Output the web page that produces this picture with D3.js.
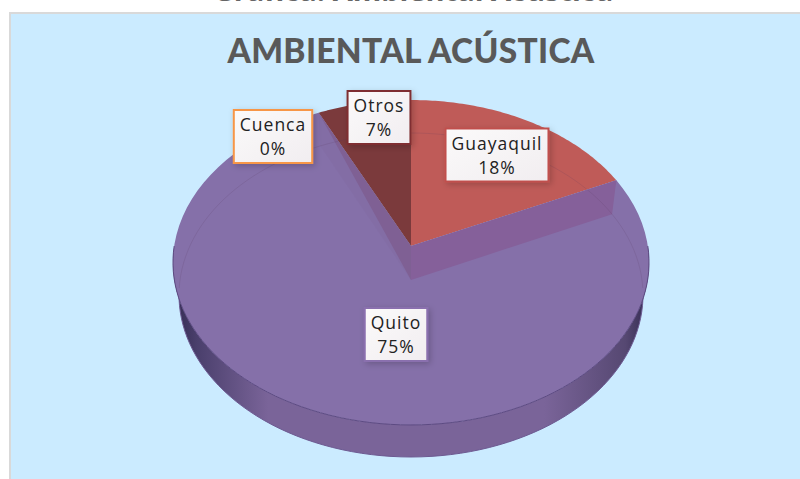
<!DOCTYPE html>
<html>
  <head>
    <title>Ambiental Acustica</title>
    <meta charset="utf-8" />
    <style>
      body {
        margin: 0;
        background: #fff;
      }
      text {
        font-family: "Open Sans", sans-serif;
      }
    </style>
    <script src="https://d3js.org/d3.v7.min.js"></script>
  </head>
  <body>
    <div id="chart"></div>
    <script type="text/javascript">
      var categories = ["Guayaquil", "Quito", "Cuenca", "Otros"];
      var values = [18, 75, 0, 7];
      var chartTitle = "AMBIENTAL ACÚSTICA";

      // label box centres, separate from the data
      var labelCenters = {
        Guayaquil: [497, 155],
        Quito: [396, 334.5],
        Cuenca: [273, 136.5],
        Otros: [379, 117.5],
      };
      var sliceColor = {
        Guayaquil: "#bf5b58",
        Quito: "#8570a9",
        Cuenca: "#9bbb59",
        Otros: "#7b3a3c",
      };
      var boxStroke = {
        Guayaquil: "#c0504d",
        Quito: "#8a6fae",
        Cuenca: "#f79646",
        Otros: "#7f2f30",
      };

      var w = 800;
      var h = 479;

      var svg = d3
        .select("#chart")
        .append("svg")
        .attr("width", w)
        .attr("height", h)
        .style("display", "block");

      var defs = svg.append("defs");

      var wallGrad = defs
        .append("linearGradient")
        .attr("id", "wall")
        .attr("gradientUnits", "userSpaceOnUse")
        .attr("x1", 173)
        .attr("x2", 649)
        .attr("y1", 0)
        .attr("y2", 0);
      [
        [0, "#322a50"],
        [0.05, "#4a3f6c"],
        [0.2, "#7a6499"],
        [0.78, "#7a6499"],
        [0.95, "#564872"],
        [1, "#322a50"],
      ].forEach(function (s) {
        wallGrad.append("stop").attr("offset", s[0]).attr("stop-color", s[1]);
      });

      var boxGrad = defs
        .append("linearGradient")
        .attr("id", "boxFill")
        .attr("x1", 0)
        .attr("x2", 1)
        .attr("y1", 0)
        .attr("y2", 1);
      boxGrad.append("stop").attr("offset", 0).attr("stop-color", "#fbfafa");
      boxGrad.append("stop").attr("offset", 1).attr("stop-color", "#f1edf0");

      defs
        .append("filter")
        .attr("id", "shadow")
        .attr("x", "-20%")
        .attr("y", "-20%")
        .attr("width", "150%")
        .attr("height", "150%")
        .append("feDropShadow")
        .attr("dx", 2)
        .attr("dy", 2)
        .attr("stdDeviation", 3)
        .attr("flood-color", "#000")
        .attr("flood-opacity", 0.2);

      // caption of the page above, cut off by the crop in the reference
      svg
        .append("text")
        .attr("x", 413)
        .attr("y", 1)
        .attr("text-anchor", "middle")
        .attr("font-size", 29)
        .attr("font-weight", 700)
        .attr("fill", "#666")
        .text("Gráfica: Ambiental Acústica");

      // chart panel
      svg
        .append("rect")
        .attr("x", 10)
        .attr("y", 13)
        .attr("width", w)
        .attr("height", h)
        .attr("fill", "#cbebff")
        .attr("stroke", "#d9d9d9")
        .attr("stroke-width", 2);

      svg
        .append("text")
        .attr("x", 411)
        .attr("y", 63)
        .attr("text-anchor", "middle")
        .attr("font-size", 33.5)
        .attr("font-weight", 900)
        .attr("letter-spacing", 0.3)
        .attr("fill", "#595959")
        .style("font-family", "Lato")
        .text(chartTitle);

      // perspective disc: u to the right, v to the back
      function disc(cx, cy, a, b, k) {
        return function (theta, r) {
          if (r === undefined) r = 1;
          var u = r * Math.sin(theta);
          var v = r * Math.cos(theta);
          var d = 1 + k * v;
          return [cx + (a * u) / d, cy - (b * v) / d];
        };
      }
      var upper = disc(411, 246, 236.8, 160.8, 0.1015);
      var lower = disc(411, 280, 231, 160.6, 0.0926);

      var line = d3.line();
      var pie = d3
        .pie()
        .sort(null)
        .value(function (d) {
          return d.value;
        });
      var slices = pie(
        categories.map(function (c, i) {
          return { name: c, value: values[i] };
        })
      );

      function arcPoints(p, a0, a1) {
        return d3.range(0, 81).map(function (i) {
          return p(a0 + ((a1 - a0) * i) / 80);
        });
      }
      function slicePath(p, s) {
        var pts = [p(0, 0)].concat(arcPoints(p, s.startAngle, s.endAngle));
        return line(pts) + "Z";
      }
      function cutFace(angle) {
        return (
          line([upper(0, 0), upper(angle), lower(angle), lower(0, 0)]) + "Z"
        );
      }

      // side wall at the front
      var wallPts = arcPoints(upper, Math.PI / 2, (3 * Math.PI) / 2).concat(
        arcPoints(lower, (3 * Math.PI) / 2, Math.PI / 2)
      );
      svg
        .append("path")
        .attr("d", line(wallPts) + "Z")
        .attr("fill", "url(#wall)");
      svg
        .append("path")
        .attr("d", line(arcPoints(lower, Math.PI / 2, (3 * Math.PI) / 2)))
        .attr("fill", "none")
        .attr("stroke", "#6d5a92")
        .attr("stroke-width", 1);

      // top surface
      svg
        .append("g")
        .selectAll("path")
        .data(
          slices.filter(function (d) {
            return d.value > 0;
          })
        )
        .enter()
        .append("path")
        .attr("d", function (d) {
          return slicePath(upper, d);
        })
        .attr("fill", function (d) {
          return sliceColor[d.data.name];
        });

      var guayaquil = slices[0];
      var quito = slices[1];

      // cut faces seen through the surface
      svg
        .append("path")
        .attr("d", cutFace(guayaquil.endAngle))
        .attr("fill", "#85609a");
      svg
        .append("path")
        .attr("d", cutFace(quito.endAngle))
        .attr("fill", "#7c5f93")
        .attr("fill-opacity", 0.15);
      svg
        .append("path")
        .attr(
          "d",
          line([upper(0, 0), upper(quito.endAngle), lower(0, 0)]) + "Z"
        )
        .attr("fill", "#7f6094");

      // back rim of the base, seen through
      svg
        .append("path")
        .attr("d", line(arcPoints(lower, -Math.PI / 2 - 0.05, Math.PI / 2 + 0.05)))
        .attr("fill", "none")
        .attr("stroke", "#5a3a60")
        .attr("stroke-opacity", 0.16)
        .attr("stroke-width", 1);

      // front edge of the top surface
      svg
        .append("path")
        .attr("d", line(arcPoints(upper, Math.PI / 2, (3 * Math.PI) / 2)))
        .attr("fill", "none")
        .attr("stroke", "#5d4a82")
        .attr("stroke-width", 1);

      // labels
      var labels = svg
        .append("g")
        .selectAll("g")
        .data(slices)
        .enter()
        .append("g")
        .attr("transform", function (d) {
          return "translate(" + labelCenters[d.data.name] + ")";
        });

      labels
        .append("text")
        .attr("class", "name")
        .attr("text-anchor", "middle")
        .attr("y", -5.5)
        .attr("font-size", 17.5)
        .attr("letter-spacing", 1)
        .attr("fill", "#222")
        .text(function (d) {
          return d.data.name;
        });

      labels
        .append("text")
        .attr("text-anchor", "middle")
        .attr("y", 18.5)
        .attr("font-size", 17.5)
        .attr("letter-spacing", 1)
        .attr("fill", "#222")
        .text(function (d) {
          return d.value + "%";
        });

      labels.insert("rect", "text").each(function (d) {
        var tw = this.parentNode.querySelector(".name").getBBox().width;
        d3.select(this)
          .attr("x", -(tw + 12) / 2)
          .attr("y", -26.5)
          .attr("width", tw + 12)
          .attr("height", 53)
          .attr("fill", "url(#boxFill)")
          .attr("stroke", boxStroke[d.data.name])
          .attr("stroke-width", 2)
          .attr("filter", "url(#shadow)");
      });
    </script>
  </body>
</html>
